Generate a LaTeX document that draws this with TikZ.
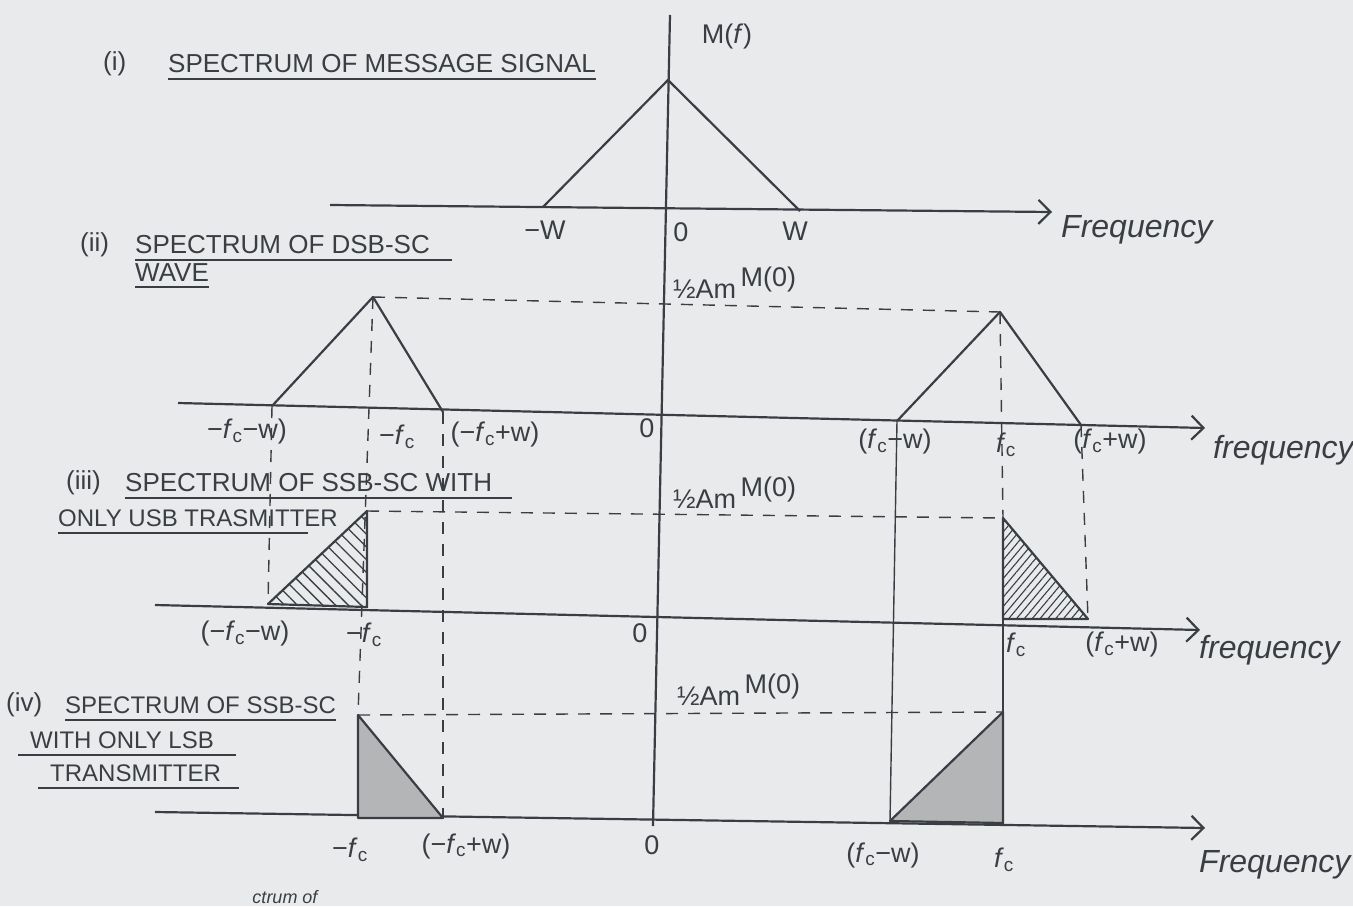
\documentclass[tikz,border=0pt]{standalone}
\usepackage{fontspec}
\setmainfont{Liberation Sans}
\usetikzlibrary{arrows.meta, patterns.meta}
\definecolor{ink}{HTML}{3A3E44}
\definecolor{paper}{HTML}{E9EAEB}
\definecolor{lead}{HTML}{B4B5B7}
\newcommand{\fcar}{\textit{f}\textsubscript{c}}
\newcommand{\halfam}{½Am\,\raisebox{0.45em}{M(0)}}

\begin{document}
\begin{tikzpicture}[x=1pt, y=-1pt,
    ink/.style={draw=ink, line width=2.2pt},
    thin/.style={draw=ink, line width=1.4pt},
    guide/.style={draw=ink, line width=1.4pt, dash pattern=on 12pt off 10pt},
    axis/.style={ink, -{Straight Barb[length=12pt, width=24pt]}},
    title/.style={font=\fontsize{26}{28}\selectfont, text=ink, inner sep=0pt, anchor=west},
    small title/.style={title, font=\fontsize{24}{26}\selectfont},
    lbl/.style={font=\fontsize{27}{29}\selectfont, text=ink, inner sep=1pt},
    freq/.style={font=\fontsize{32}{34}\selectfont\itshape, text=ink, anchor=west, inner sep=1pt},
    uline/.style={draw=ink, line width=2pt}]
  \fill[paper] (0,0) rectangle (1353,906);
  \useasboundingbox (0,0) rectangle (1353,906);

  % titles
  \node[title] (n1) at (103,64) {(i)};
  \node[title] (t1) at (168,64) {SPECTRUM OF MESSAGE SIGNAL};
  \draw[uline] ([yshift=-6pt]t1.south west) -- ([yshift=-6pt]t1.south east);
  \node[title] (n2) at (80,245) {(ii)};
  \node[title] (t2) at (135,245) {SPECTRUM OF DSB-SC};
  \draw[uline] ([yshift=-6pt]t2.south west) -- ([xshift=22pt,yshift=-6pt]t2.south east);
  \node[title] (t2b) at (135,273) {WAVE};
  \draw[uline] ([yshift=-5pt]t2b.south west) -- ([yshift=-5pt]t2b.south east);
  \node[title] (n3) at (66,483) {(iii)};
  \node[title] (t3) at (125,483) {SPECTRUM OF SSB-SC WITH};
  \draw[uline] ([yshift=-6pt]t3.south west) -- ([xshift=20pt,yshift=-6pt]t3.south east);
  \node[small title] (t3b) at (58,518) {ONLY USB TRASMITTER};
  \draw[uline] ([yshift=-6pt]t3b.south west) -- ([xshift=-30pt,yshift=-6pt]t3b.south east);
  \node[title] (n4) at (6,705) {(iv)};
  \node[small title] (t4) at (65,705) {SPECTRUM OF SSB-SC};
  \draw[uline] ([yshift=-6pt]t4.south west) -- ([yshift=-6pt]t4.south east);
  \node[small title] (t4b) at (30,740) {WITH ONLY LSB};
  \draw[uline] ([xshift=-12pt,yshift=-6pt]t4b.south west) -- ([xshift=22pt,yshift=-6pt]t4b.south east);
  \node[small title] (t4c) at (50,773) {TRANSMITTER};
  \draw[uline] ([xshift=-12pt,yshift=-6pt]t4c.south west) -- ([xshift=18pt,yshift=-6pt]t4c.south east);

  % axes
  \coordinate (vtop) at (670,15);
  \coordinate (vbot) at (653,826);
  \draw[ink] (vtop) -- (vbot);
  \coordinate (a1L) at (330,205);  \coordinate (a1R) at (1052,212);
  \coordinate (a2L) at (178,403);  \coordinate (a2R) at (1205,428);
  \coordinate (a3L) at (155,605);  \coordinate (a3R) at (1200,630);
  \coordinate (a4L) at (155,812);  \coordinate (a4R) at (1205,828);
  \draw[axis] (a1L) -- (a1R);
  \draw[axis] (a2L) -- (a2R);
  \draw[axis] (a3L) -- (a3R);
  \draw[axis] (a4L) -- (a4R);

  % (i) message spectrum
  \coordinate (m1) at (543,207);
  \coordinate (mp) at (668,80);
  \coordinate (m2) at (800,211);
  \draw[ink, line join=round] (m1) -- (mp) -- (m2);
  \node[lbl] (Mf) at (727,37) {M(\textit{f})};
  \node[lbl] (lw1) at (545,230) {−W};
  \node[lbl] (lz1) at (681,232) {0};
  \node[lbl] (lw2) at (795,231) {W};
  \node[freq] (fq1) at (1060,230) {Frequency};

  % (ii) DSB-SC
  \coordinate (dl1) at (272,406);
  \coordinate (dlp) at (373,297);
  \coordinate (dl2) at (443,412);
  \coordinate (dr1) at (897,421);
  \coordinate (drp) at (1000,312);
  \coordinate (dr2) at (1081,425);
  \draw[ink, line join=round] (dl1) -- (dlp) -- (dl2);
  \draw[ink, line join=round] (dr1) -- (drp) -- (dr2);
  \draw[guide] (dlp) -- (drp);
  \node[lbl, anchor=west] (h2) at (672,283) {\halfam};
  \node[lbl] (l21) at (247,432) {−\fcar−w)};
  \node[lbl] (l22) at (397,437) {−\fcar};
  \node[lbl] (l23) at (495,435) {(−\fcar+w)};
  \node[lbl] (l24) at (647,428) {0};
  \node[lbl] (l25) at (895,442) {(\fcar−w)};
  \node[lbl] (l26) at (1006,445) {\fcar};
  \node[lbl] (l27) at (1110,442) {(\fcar+w)};
  \node[freq] (fq2) at (1212,450) {frequency};

  % (iii) SSB-SC, upper sideband only
  \coordinate (ul1) at (268,604);
  \coordinate (ulp) at (367,511);
  \coordinate (ulb) at (367,607);
  \coordinate (urp) at (1003,518);
  \coordinate (urb) at (1003,619);
  \coordinate (ur2) at (1088,619);
  \draw[ink, line join=round, pattern={Lines[angle=-45, distance=9pt, line width=1.3pt]}, pattern color=ink]
    (ul1) -- (ulp) -- (ulb) -- cycle;
  \draw[ink, line join=round, pattern={Lines[angle=50, distance=6pt, line width=1.1pt]}, pattern color=ink]
    (urp) -- (ur2) -- (urb) -- cycle;
  \draw[guide] (ulp) -- (urp);
  \node[lbl, anchor=west] (h3) at (672,493) {\halfam};
  \node[lbl] (l31) at (245,634) {(−\fcar−w)};
  \node[lbl] (l32) at (364,635) {−\fcar};
  \node[lbl] (l33) at (640,633) {0};
  \node[lbl] (l34) at (1016,645) {\fcar};
  \node[lbl] (l35) at (1122,645) {(\fcar+w)};
  \node[freq] (fq3) at (1198,650) {frequency};

  % (iv) SSB-SC, lower sideband only
  \coordinate (ll1) at (358,715);
  \coordinate (llb) at (358,818);
  \coordinate (ll2) at (443,818);
  \coordinate (lr1) at (890,821);
  \coordinate (lrp) at (1003,712);
  \coordinate (lrb) at (1003,823);
  \draw[ink, line join=round, fill=lead] (ll1) -- (ll2) -- (llb) -- cycle;
  \draw[ink, line join=round, fill=lead] (lr1) -- (lrp) -- (lrb) -- cycle;
  \draw[guide] (ll1) -- (lrp);
  \node[lbl, anchor=west] (h4) at (676,690) {\halfam};
  \node[lbl] (l41) at (350,850) {−\fcar};
  \node[lbl] (l42) at (466,846) {(−\fcar+w)};
  \node[lbl] (l43) at (652,845) {0};
  \node[lbl] (l44) at (883,855) {(\fcar−w)};
  \node[lbl] (l45) at (1004,860) {\fcar};
  \node[freq] (fq4) at (1198,865) {Frequency};

  % projections between the panels
  \draw[guide] (dlp) -- (ll1);
  \draw[guide] (dl2) -- (ll2);
  \draw[guide] (dl1) -- (ul1);
  \draw[guide] (drp) -- (urp);
  \draw[guide] (dr2) -- (ur2);
  \draw[thin] (dr1) -- (lr1);
  \draw[thin] (urb) -- (lrp);

  \node[font=\fontsize{18}{20}\selectfont\itshape, text=ink] (cut) at (285,897) {ctrum of};
\end{tikzpicture}
\end{document}
